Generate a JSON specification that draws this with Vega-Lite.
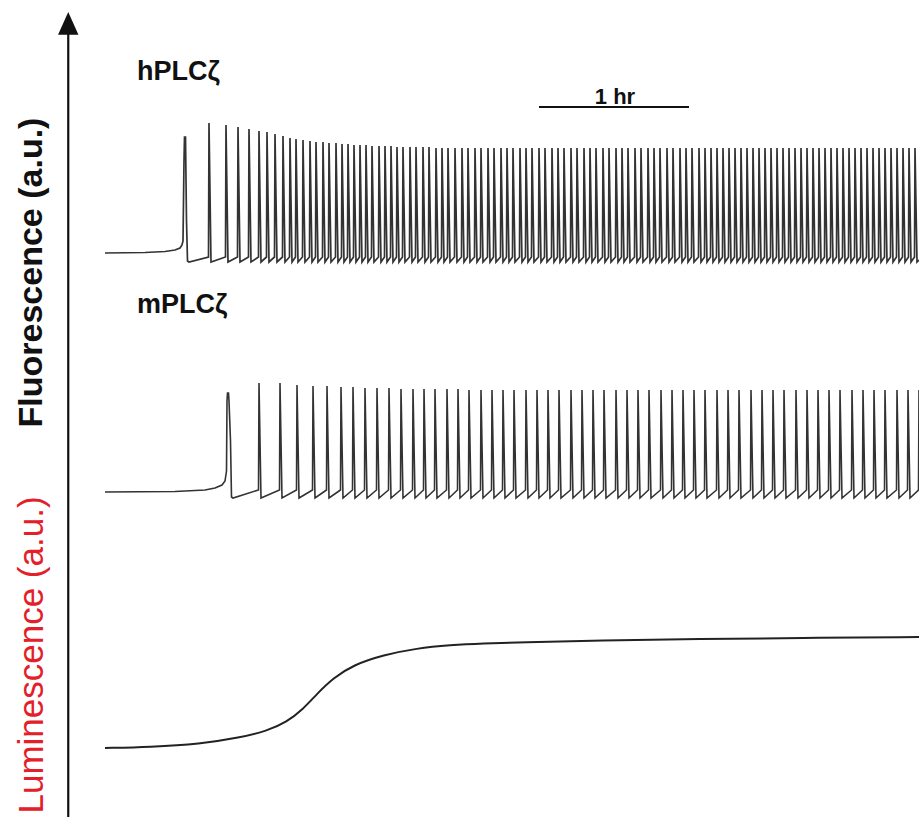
{
"$schema":"https://vega.github.io/schema/vega-lite/v6.json",
"width":919,"height":821,"padding":0,
"autosize":{"type":"fit","contains":"padding"},
"background":"white",
"config":{"view":{"stroke":null}},
"datasets":{
"hplc":[
{"t":0,"f":568},{"t":16,"f":568.5},{"t":24,"f":569.5},{"t":28,"f":571},{"t":30,"f":573},{"t":30.8,"f":576},{"t":31.2,"f":580},{"t":31.6,"f":660},{"t":31.8,"f":684},{"t":32.2,"f":684},{"t":32.6,"f":600},{"t":33.0,"f":560},{"t":33.6,"f":559},
{"t":41.4,"f":564},{"t":41.6,"f":698},{"t":42.4,"f":559},
{"t":48.2,"f":564},{"t":48.4,"f":696},{"t":49.2,"f":559},
{"t":53.0,"f":564},{"t":53.2,"f":694},{"t":54.0,"f":559},
{"t":57.4,"f":564},{"t":57.6,"f":692},{"t":58.4,"f":559},
{"t":61.4,"f":564},{"t":61.6,"f":690},{"t":62.4,"f":559},
{"t":64.6,"f":564},{"t":64.8,"f":689},{"t":65.6,"f":559},
{"t":67.8,"f":564},{"t":68.0,"f":687},{"t":68.8,"f":559},
{"t":71.0,"f":564},{"t":71.2,"f":685},{"t":72.0,"f":559},
{"t":73.8,"f":564},{"t":74.0,"f":683},{"t":74.8,"f":559},
{"t":76.2,"f":564},{"t":76.4,"f":682},{"t":77.2,"f":559},
{"t":79.0,"f":564},{"t":79.2,"f":681},{"t":80.0,"f":559},
{"t":81.8,"f":564},{"t":82.0,"f":680},{"t":82.8,"f":559},
{"t":84.2,"f":564},{"t":84.4,"f":679},{"t":85.2,"f":559},
{"t":87.0,"f":564},{"t":87.2,"f":679},{"t":88.0,"f":559},
{"t":89.4,"f":564},{"t":89.6,"f":678},{"t":90.4,"f":559},
{"t":92.2,"f":564},{"t":92.4,"f":678},{"t":93.2,"f":559},
{"t":94.6,"f":564},{"t":94.8,"f":677},{"t":95.6,"f":559},
{"t":97.0,"f":564},{"t":97.2,"f":677},{"t":98.0,"f":559},
{"t":99.4,"f":564},{"t":99.6,"f":676},{"t":100.4,"f":559},
{"t":101.8,"f":564},{"t":102.0,"f":676},{"t":102.8,"f":559},
{"t":104.2,"f":564},{"t":104.4,"f":676},{"t":105.2,"f":559},
{"t":106.6,"f":564},{"t":106.8,"f":675},{"t":107.6,"f":559},
{"t":109.4,"f":564},{"t":109.6,"f":675},{"t":110.4,"f":559},
{"t":111.8,"f":564},{"t":112.0,"f":675},{"t":112.8,"f":559},
{"t":114.2,"f":564},{"t":114.4,"f":675},{"t":115.2,"f":559},
{"t":116.6,"f":564},{"t":116.8,"f":674},{"t":117.6,"f":559},
{"t":119.0,"f":564},{"t":119.2,"f":674},{"t":120.0,"f":559},
{"t":121.8,"f":564},{"t":122.0,"f":674},{"t":122.8,"f":559},
{"t":124.2,"f":564},{"t":124.4,"f":674},{"t":125.2,"f":559},
{"t":127.0,"f":564},{"t":127.2,"f":674},{"t":128.0,"f":559},
{"t":129.4,"f":564},{"t":129.6,"f":674},{"t":130.4,"f":559},
{"t":132.2,"f":564},{"t":132.4,"f":673},{"t":133.2,"f":559},
{"t":134.6,"f":564},{"t":134.8,"f":673},{"t":135.6,"f":559},
{"t":137.0,"f":564},{"t":137.2,"f":673},{"t":138.0,"f":559},
{"t":139.8,"f":564},{"t":140.0,"f":673},{"t":140.8,"f":559},
{"t":142.6,"f":564},{"t":142.8,"f":673},{"t":143.6,"f":559},
{"t":145.0,"f":564},{"t":145.2,"f":673},{"t":146.0,"f":559},
{"t":147.8,"f":564},{"t":148.0,"f":673},{"t":148.8,"f":559},
{"t":150.2,"f":564},{"t":150.4,"f":673},{"t":151.2,"f":559},
{"t":153.0,"f":564},{"t":153.2,"f":673},{"t":154.0,"f":559},
{"t":155.4,"f":564},{"t":155.6,"f":673},{"t":156.4,"f":559},
{"t":158.2,"f":564},{"t":158.4,"f":673},{"t":159.2,"f":559},
{"t":160.6,"f":564},{"t":160.8,"f":673},{"t":161.6,"f":559},
{"t":163.0,"f":564},{"t":163.2,"f":673},{"t":164.0,"f":559},
{"t":165.8,"f":564},{"t":166.0,"f":673},{"t":166.8,"f":559},
{"t":168.2,"f":564},{"t":168.4,"f":673},{"t":169.2,"f":559},
{"t":170.6,"f":564},{"t":170.8,"f":673},{"t":171.6,"f":559},
{"t":173.4,"f":564},{"t":173.6,"f":673},{"t":174.4,"f":559},
{"t":175.8,"f":564},{"t":176.0,"f":673},{"t":176.8,"f":559},
{"t":178.6,"f":564},{"t":178.8,"f":673},{"t":179.6,"f":559},
{"t":181.0,"f":564},{"t":181.2,"f":673},{"t":182.0,"f":559},
{"t":183.4,"f":564},{"t":183.6,"f":673},{"t":184.4,"f":559},
{"t":186.2,"f":564},{"t":186.4,"f":673},{"t":187.2,"f":559},
{"t":188.6,"f":564},{"t":188.8,"f":673},{"t":189.6,"f":559},
{"t":191.4,"f":564},{"t":191.6,"f":673},{"t":192.4,"f":559},
{"t":193.8,"f":564},{"t":194.0,"f":673},{"t":194.8,"f":559},
{"t":196.2,"f":564},{"t":196.4,"f":673},{"t":197.2,"f":559},
{"t":199.0,"f":564},{"t":199.2,"f":673},{"t":200.0,"f":559},
{"t":201.4,"f":564},{"t":201.6,"f":673},{"t":202.4,"f":559},
{"t":204.2,"f":564},{"t":204.4,"f":673},{"t":205.2,"f":559},
{"t":206.6,"f":564},{"t":206.8,"f":673},{"t":207.6,"f":559},
{"t":209.0,"f":564},{"t":209.2,"f":673},{"t":210.0,"f":559},
{"t":211.8,"f":564},{"t":212.0,"f":673},{"t":212.8,"f":559},
{"t":214.2,"f":564},{"t":214.4,"f":673},{"t":215.2,"f":559},
{"t":217.0,"f":564},{"t":217.2,"f":673},{"t":218.0,"f":559},
{"t":219.4,"f":564},{"t":219.6,"f":673},{"t":220.4,"f":559},
{"t":221.8,"f":564},{"t":222.0,"f":673},{"t":222.8,"f":559},
{"t":224.6,"f":564},{"t":224.8,"f":673},{"t":225.6,"f":559},
{"t":227.0,"f":564},{"t":227.2,"f":673},{"t":228.0,"f":559},
{"t":229.8,"f":564},{"t":230.0,"f":673},{"t":230.8,"f":559},
{"t":232.2,"f":564},{"t":232.4,"f":673},{"t":233.2,"f":559},
{"t":234.6,"f":564},{"t":234.8,"f":673},{"t":235.6,"f":559},
{"t":237.4,"f":564},{"t":237.6,"f":673},{"t":238.4,"f":559},
{"t":239.8,"f":564},{"t":240.0,"f":673},{"t":240.8,"f":559},
{"t":242.2,"f":564},{"t":242.4,"f":673},{"t":243.2,"f":559},
{"t":244.6,"f":564},{"t":244.8,"f":673},{"t":245.6,"f":559},
{"t":247.0,"f":564},{"t":247.2,"f":673},{"t":248.0,"f":559},
{"t":249.4,"f":564},{"t":249.6,"f":673},{"t":250.4,"f":559},
{"t":251.8,"f":564},{"t":252.0,"f":673},{"t":252.8,"f":559},
{"t":254.2,"f":564},{"t":254.4,"f":673},{"t":255.2,"f":559},
{"t":256.6,"f":564},{"t":256.8,"f":673},{"t":257.6,"f":559},
{"t":259.0,"f":564},{"t":259.2,"f":673},{"t":260.0,"f":559},
{"t":261.4,"f":564},{"t":261.6,"f":673},{"t":262.4,"f":559},
{"t":263.8,"f":564},{"t":264.0,"f":673},{"t":264.8,"f":559},
{"t":266.2,"f":564},{"t":266.4,"f":673},{"t":267.2,"f":559},
{"t":268.6,"f":564},{"t":268.8,"f":673},{"t":269.6,"f":559},
{"t":271.0,"f":564},{"t":271.2,"f":673},{"t":272.0,"f":559},
{"t":273.4,"f":564},{"t":273.6,"f":673},{"t":274.4,"f":559},
{"t":275.8,"f":564},{"t":276.0,"f":673},{"t":276.8,"f":559},
{"t":278.2,"f":564},{"t":278.4,"f":673},{"t":279.2,"f":559},
{"t":280.6,"f":564},{"t":280.8,"f":673},{"t":281.6,"f":559},
{"t":283.0,"f":564},{"t":283.2,"f":673},{"t":284.0,"f":559},
{"t":285.4,"f":564},{"t":285.6,"f":673},{"t":286.4,"f":559},
{"t":287.8,"f":564},{"t":288.0,"f":673},{"t":288.8,"f":559},
{"t":290.2,"f":564},{"t":290.4,"f":673},{"t":291.2,"f":559},
{"t":292.6,"f":564},{"t":292.8,"f":673},{"t":293.6,"f":559},
{"t":295.0,"f":564},{"t":295.2,"f":673},{"t":296.0,"f":559},
{"t":297.4,"f":564},{"t":297.6,"f":673},{"t":298.4,"f":559},
{"t":299.8,"f":564},{"t":300.0,"f":673},{"t":300.8,"f":559},
{"t":302.2,"f":564},{"t":302.4,"f":673},{"t":303.2,"f":559},
{"t":304.6,"f":564},{"t":304.8,"f":673},{"t":305.6,"f":559},
{"t":307.0,"f":564},{"t":307.2,"f":673},{"t":308.0,"f":559},
{"t":309.4,"f":564},{"t":309.6,"f":673},{"t":310.4,"f":559},
{"t":311.8,"f":564},{"t":312.0,"f":673},{"t":312.8,"f":559},
{"t":314.2,"f":564},{"t":314.4,"f":673},{"t":315.2,"f":559},
{"t":316.6,"f":564},{"t":316.8,"f":673},{"t":317.6,"f":559},
{"t":319.0,"f":564},{"t":319.2,"f":673},{"t":320.0,"f":559},
{"t":321.4,"f":564},{"t":321.6,"f":673},{"t":322.4,"f":559},
{"t":323.8,"f":564},{"t":324.0,"f":673},{"t":324.8,"f":559},
{"t":325.6,"f":561}
],
"mplc":[
{"t":0,"f":329},{"t":28,"f":329.5},{"t":40,"f":331},{"t":44,"f":333},{"t":46.8,"f":336},{"t":48,"f":340},{"t":48.6,"f":350},{"t":48.8,"f":420},{"t":49.0,"f":428},{"t":49.4,"f":428},{"t":49.6,"f":420},{"t":50.2,"f":380},{"t":50.6,"f":324},{"t":51.2,"f":323},
{"t":61.4,"f":331},{"t":61.6,"f":438},{"t":62.4,"f":323},
{"t":69.8,"f":331},{"t":70.0,"f":438},{"t":70.8,"f":323},
{"t":76.6,"f":331},{"t":76.8,"f":436},{"t":77.6,"f":323},
{"t":83.0,"f":331},{"t":83.2,"f":435},{"t":84.0,"f":323},
{"t":88.6,"f":331},{"t":88.8,"f":435},{"t":89.6,"f":323},
{"t":94.2,"f":331},{"t":94.4,"f":434},{"t":95.2,"f":323},
{"t":99.0,"f":331},{"t":99.2,"f":434},{"t":100.0,"f":323},
{"t":103.8,"f":331},{"t":104.0,"f":433},{"t":104.8,"f":323},
{"t":108.6,"f":331},{"t":108.8,"f":433},{"t":109.6,"f":323},
{"t":113.4,"f":331},{"t":113.6,"f":433},{"t":114.4,"f":323},
{"t":118.2,"f":331},{"t":118.4,"f":432},{"t":119.2,"f":323},
{"t":123.0,"f":331},{"t":123.2,"f":432},{"t":124.0,"f":323},
{"t":127.4,"f":331},{"t":127.6,"f":432},{"t":128.4,"f":323},
{"t":131.8,"f":331},{"t":132.0,"f":432},{"t":132.8,"f":323},
{"t":136.6,"f":331},{"t":136.8,"f":432},{"t":137.6,"f":323},
{"t":141.0,"f":331},{"t":141.2,"f":432},{"t":142.0,"f":323},
{"t":145.4,"f":331},{"t":145.6,"f":431},{"t":146.4,"f":323},
{"t":150.2,"f":331},{"t":150.4,"f":431},{"t":151.2,"f":323},
{"t":154.6,"f":331},{"t":154.8,"f":431},{"t":155.6,"f":323},
{"t":159.0,"f":331},{"t":159.2,"f":431},{"t":160.0,"f":323},
{"t":163.4,"f":331},{"t":163.6,"f":431},{"t":164.4,"f":323},
{"t":168.2,"f":331},{"t":168.4,"f":431},{"t":169.2,"f":323},
{"t":172.6,"f":331},{"t":172.8,"f":431},{"t":173.6,"f":323},
{"t":177.0,"f":331},{"t":177.2,"f":431},{"t":178.0,"f":323},
{"t":181.4,"f":331},{"t":181.6,"f":431},{"t":182.4,"f":323},
{"t":186.2,"f":331},{"t":186.4,"f":431},{"t":187.2,"f":323},
{"t":190.6,"f":331},{"t":190.8,"f":431},{"t":191.6,"f":323},
{"t":195.0,"f":331},{"t":195.2,"f":431},{"t":196.0,"f":323},
{"t":199.4,"f":331},{"t":199.6,"f":431},{"t":200.4,"f":323},
{"t":204.2,"f":331},{"t":204.4,"f":431},{"t":205.2,"f":323},
{"t":208.6,"f":331},{"t":208.8,"f":431},{"t":209.6,"f":323},
{"t":213.0,"f":331},{"t":213.2,"f":431},{"t":214.0,"f":323},
{"t":217.4,"f":331},{"t":217.6,"f":431},{"t":218.4,"f":323},
{"t":222.2,"f":331},{"t":222.4,"f":431},{"t":223.2,"f":323},
{"t":226.6,"f":331},{"t":226.8,"f":431},{"t":227.6,"f":323},
{"t":231.0,"f":331},{"t":231.2,"f":431},{"t":232.0,"f":323},
{"t":235.4,"f":331},{"t":235.6,"f":431},{"t":236.4,"f":323},
{"t":239.8,"f":331},{"t":240.0,"f":431},{"t":240.8,"f":323},
{"t":244.6,"f":331},{"t":244.8,"f":431},{"t":245.6,"f":323},
{"t":249.0,"f":331},{"t":249.2,"f":431},{"t":250.0,"f":323},
{"t":253.4,"f":331},{"t":253.6,"f":431},{"t":254.4,"f":323},
{"t":258.2,"f":331},{"t":258.4,"f":431},{"t":259.2,"f":323},
{"t":262.6,"f":331},{"t":262.8,"f":431},{"t":263.6,"f":323},
{"t":267.0,"f":331},{"t":267.2,"f":431},{"t":268.0,"f":323},
{"t":271.4,"f":331},{"t":271.6,"f":431},{"t":272.4,"f":323},
{"t":276.2,"f":331},{"t":276.4,"f":431},{"t":277.2,"f":323},
{"t":280.6,"f":331},{"t":280.8,"f":431},{"t":281.6,"f":323},
{"t":285.0,"f":331},{"t":285.2,"f":431},{"t":286.0,"f":323},
{"t":289.4,"f":331},{"t":289.6,"f":431},{"t":290.4,"f":323},
{"t":293.8,"f":331},{"t":294.0,"f":431},{"t":294.8,"f":323},
{"t":298.6,"f":331},{"t":298.8,"f":431},{"t":299.6,"f":323},
{"t":303.0,"f":331},{"t":303.2,"f":431},{"t":304.0,"f":323},
{"t":307.4,"f":331},{"t":307.6,"f":431},{"t":308.4,"f":323},
{"t":311.8,"f":331},{"t":312.0,"f":431},{"t":312.8,"f":323},
{"t":316.6,"f":331},{"t":316.8,"f":431},{"t":317.6,"f":323},
{"t":321.0,"f":331},{"t":321.2,"f":431},{"t":322.0,"f":323},
{"t":325.4,"f":331},{"t":325.6,"f":431}
],
"lum":[
{"t":0,"f":73},{"t":18,"f":74},{"t":38,"f":77},{"t":54,"f":83.5},{"t":64.7,"f":90},{"t":72.7,"f":99},{"t":79.3,"f":112},{"t":84.7,"f":127},{"t":91.3,"f":143},{"t":99.3,"f":156},{"t":111.3,"f":166},{"t":124.7,"f":172.7},{"t":138,"f":176},{"t":151.3,"f":177.7},{"t":166,"f":178.6},{"t":198,"f":180.5},{"t":238,"f":182},{"t":278,"f":183},{"t":325.6,"f":184}
],
"axisline":[{"t":-14.7,"f":790,"f2":4}],
"arrowhead":[{"t":-14.7,"f":797.7}],
"scalebar":[{"t":173.6,"t2":233.6,"f":714}],
"tracelabels":[{"txt":"hPLCζ","t":12.8,"f":749},{"txt":"mPLCζ","t":12.8,"f":516}],
"barlabel":[{"txt":"1 hr","t":204,"f":724}],
"fluo":[{"txt":"Fluorescence (a.u.)","t":-29.2,"f":548.5}],
"lumi":[{"txt":"Luminescence (a.u.)","t":-29.2,"f":166}]
},
"layer":[
{"data":{"name":"hplc"},"mark":{"type":"line","color":"#333333","strokeWidth":1.7,"clip":true},
 "encoding":{"x":{"field":"t","type":"quantitative","scale":{"domain":[-42,325.6]},"axis":null},"y":{"field":"f","type":"quantitative","scale":{"domain":[0,821]},"axis":null}}},
{"data":{"name":"mplc"},"mark":{"type":"line","color":"#333333","strokeWidth":1.6,"clip":true},
 "encoding":{"x":{"field":"t","type":"quantitative","scale":{"domain":[-42,325.6]},"axis":null},"y":{"field":"f","type":"quantitative","scale":{"domain":[0,821]},"axis":null}}},
{"data":{"name":"lum"},"mark":{"type":"line","color":"#222222","strokeWidth":2,"interpolate":"basis","clip":true},
 "encoding":{"x":{"field":"t","type":"quantitative","scale":{"domain":[-42,325.6]},"axis":null},"y":{"field":"f","type":"quantitative","scale":{"domain":[0,821]},"axis":null}}},
{"data":{"name":"axisline"},"mark":{"type":"rule","color":"#111111","strokeWidth":2.2},
 "encoding":{"x":{"field":"t","type":"quantitative","scale":{"domain":[-42,325.6]},"axis":null},"y":{"field":"f","type":"quantitative","scale":{"domain":[0,821]},"axis":null},"y2":{"field":"f2"}}},
{"data":{"name":"arrowhead"},"mark":{"type":"point","shape":"M-0.85,0.95L0,-0.95L0.85,0.95Z","filled":true,"size":576,"color":"#111111","opacity":1},
 "encoding":{"x":{"field":"t","type":"quantitative","scale":{"domain":[-42,325.6]},"axis":null},"y":{"field":"f","type":"quantitative","scale":{"domain":[0,821]},"axis":null}}},
{"data":{"name":"scalebar"},"mark":{"type":"rule","color":"#111111","strokeWidth":2},
 "encoding":{"x":{"field":"t","type":"quantitative","scale":{"domain":[-42,325.6]},"axis":null},"x2":{"field":"t2"},"y":{"field":"f","type":"quantitative","scale":{"domain":[0,821]},"axis":null}}},
{"data":{"name":"tracelabels"},"mark":{"type":"text","font":"Liberation Sans","fontWeight":"bold","fontSize":27,"align":"left","baseline":"middle","color":"#111111"},
 "encoding":{"x":{"field":"t","type":"quantitative","scale":{"domain":[-42,325.6]},"axis":null},"y":{"field":"f","type":"quantitative","scale":{"domain":[0,821]},"axis":null},"text":{"field":"txt"}}},
{"data":{"name":"barlabel"},"mark":{"type":"text","font":"Liberation Sans","fontWeight":"bold","fontSize":22,"align":"center","baseline":"middle","color":"#111111"},
 "encoding":{"x":{"field":"t","type":"quantitative","scale":{"domain":[-42,325.6]},"axis":null},"y":{"field":"f","type":"quantitative","scale":{"domain":[0,821]},"axis":null},"text":{"field":"txt"}}},
{"data":{"name":"fluo"},"mark":{"type":"text","font":"Liberation Sans","fontWeight":"bold","fontSize":34,"angle":270,"align":"center","baseline":"middle","color":"#111111"},
 "encoding":{"x":{"field":"t","type":"quantitative","scale":{"domain":[-42,325.6]},"axis":null},"y":{"field":"f","type":"quantitative","scale":{"domain":[0,821]},"axis":null},"text":{"field":"txt"}}},
{"data":{"name":"lumi"},"mark":{"type":"text","font":"Liberation Sans","fontSize":35,"angle":270,"align":"center","baseline":"middle","color":"#e3202a"},
 "encoding":{"x":{"field":"t","type":"quantitative","scale":{"domain":[-42,325.6]},"axis":null},"y":{"field":"f","type":"quantitative","scale":{"domain":[0,821]},"axis":null},"text":{"field":"txt"}}}
]
}
